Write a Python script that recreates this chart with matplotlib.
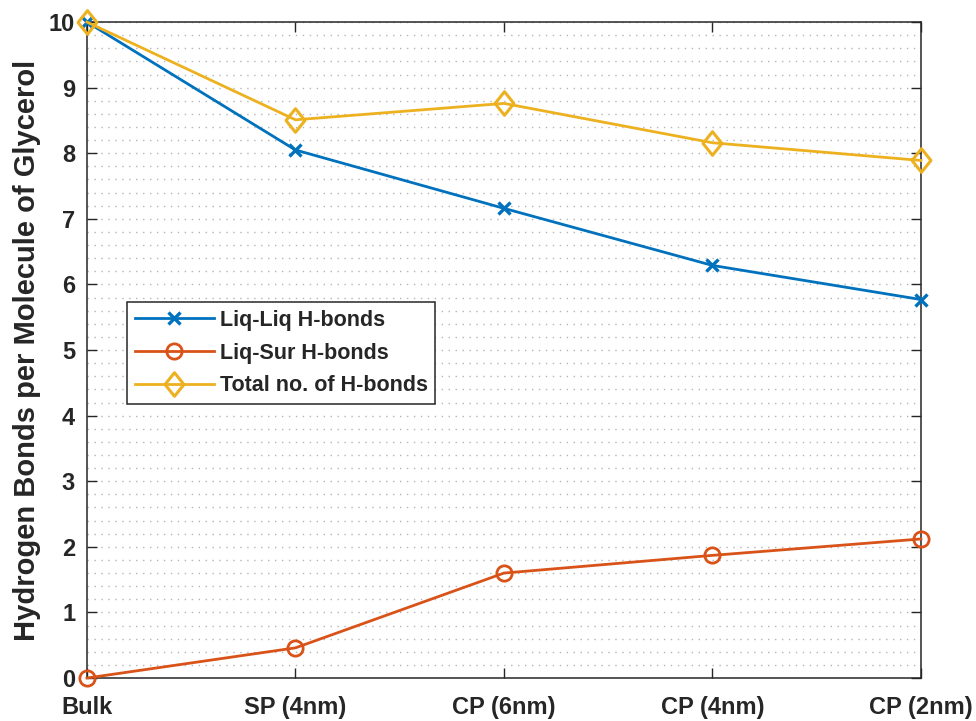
import matplotlib
matplotlib.use("Agg")
import matplotlib.pyplot as plt
from matplotlib.ticker import MultipleLocator
from matplotlib.path import Path
import numpy as np

categories = ["Bulk", "SP (4nm)", "CP (6nm)", "CP (4nm)", "CP (2nm)"]
liq_liq = [10.0, 8.05, 7.16, 6.29, 5.77]
liq_sur = [0.0, 0.46, 1.60, 1.87, 2.12]
total = [10.0, 8.51, 8.76, 8.16, 7.89]

plt.rcParams['font.family'] = ['Liberation Sans', 'DejaVu Sans']
plt.rcParams['font.weight'] = 'bold'

# slightly tall diamond marker
diamond = Path([(0, 1), (0.8, 0), (0, -1), (-0.8, 0), (0, 1)],
               [Path.MOVETO, Path.LINETO, Path.LINETO, Path.LINETO, Path.CLOSEPOLY])

fig = plt.figure(figsize=(9.76, 7.21), dpi=100)
ax = fig.add_axes([0.0891, 0.0596, 0.8545, 0.9098])

x = np.arange(len(categories))
lw = 2.0
ax.plot(x, liq_liq, color='#0072BD', lw=lw, marker='x', ms=9, mew=2.4,
        label='Liq-Liq H-bonds', clip_on=False, zorder=3)
ax.plot(x, liq_sur, color='#D95319', lw=lw, marker='o', ms=11, mew=2.0,
        mfc='none', label='Liq-Sur H-bonds', clip_on=False, zorder=3)
ax.plot(x, total, color='#EDB120', lw=lw, marker=diamond, ms=17, mew=2.2,
        mfc='none', label='Total no. of H-bonds', clip_on=False, zorder=3)

ax.set_xlim(0, len(categories) - 1)
ax.set_ylim(0, 10)
ax.set_xticks(x)
ax.set_xticklabels(categories, fontsize=17, fontweight='bold')
ax.yaxis.set_major_locator(MultipleLocator(1))
ax.yaxis.set_minor_locator(MultipleLocator(0.2))
for lab in ax.get_yticklabels():
    lab.set_fontsize(17)
    lab.set_fontweight('bold')

ax.grid(True, axis='y', which='both', color='#b4b4b4', linestyle=(0, (1, 4)), lw=1.0)
ax.set_axisbelow(True)

ax.tick_params(axis='both', which='major', direction='in', length=7, width=1,
               top=True, right=True, colors='#262626', labelcolor='#262626')
ax.tick_params(axis='y', which='minor', length=0)
ax.tick_params(axis='y', pad=8.5)
ax.tick_params(axis='x', pad=13)
for s in ax.spines.values():
    s.set_color('#262626')
    s.set_linewidth(1.1)

ax.set_ylabel('Hydrogen Bonds per Molecule of Glycerol', fontsize=21,
              fontweight='bold', color='#262626', labelpad=6)

leg = ax.legend(loc='upper left', bbox_to_anchor=(0.048, 0.573), fontsize=15.5,
                frameon=True, fancybox=False, edgecolor='#262626', framealpha=1,
                handlelength=3.7, handletextpad=0.25, borderpad=0.35,
                labelspacing=0.55, borderaxespad=0)
leg.get_frame().set_linewidth(1.1)
for t in leg.get_texts():
    t.set_fontweight('bold')
    t.set_color('#262626')

fig.savefig('out.png', dpi=100)
